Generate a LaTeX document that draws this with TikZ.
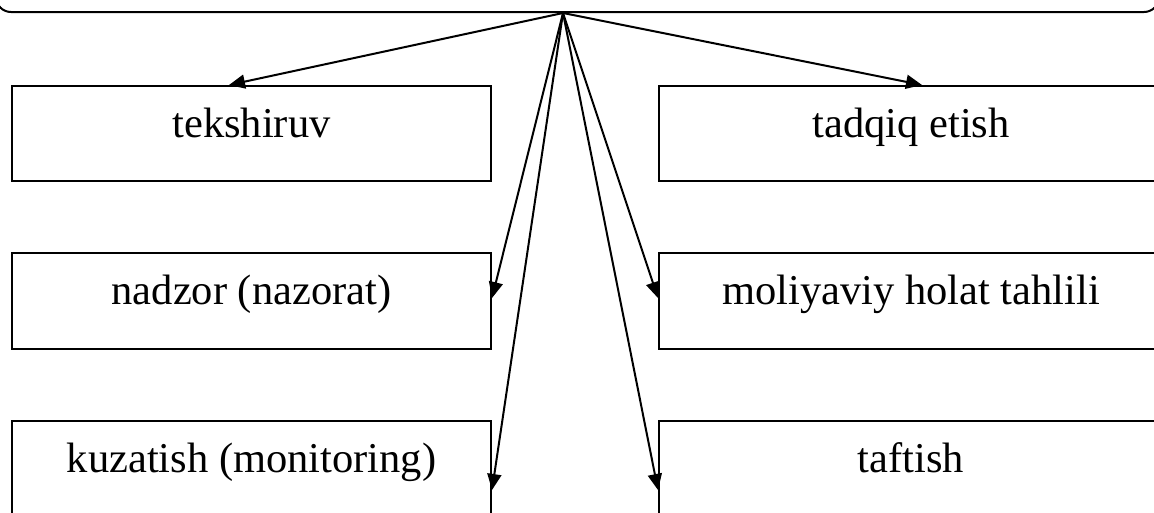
\documentclass[tikz,border=0pt]{standalone}
\usepackage{fontspec}
\setmainfont{Liberation Serif}
\usetikzlibrary{arrows.meta}
\begin{document}
\begin{tikzpicture}[x=1pt,y=-1pt,
  box/.style={draw, line width=2pt, inner sep=0pt, anchor=north west},
  lbl/.style={anchor=base, inner sep=0pt, font=\fontsize{42.5}{50}\selectfont},
  conn/.style={line width=2pt, -{Triangle[length=16pt,width=14pt]}}]
\useasboundingbox (0,0) rectangle (1154,512);
\clip (0,0) rectangle (1154,512);
% top rounded box (only its lower edge shows)
\node[draw, line width=2pt, rounded corners=15pt, minimum width=1163pt, minimum height=120pt, anchor=south west, inner sep=0pt] (top) at (-5,13) {};
\coordinate (src) at ([xshift=-14.5pt]top.south);
% boxes
\node[box, minimum width=479pt, minimum height=95pt] (tek) at (11,85) {};
\node[box, minimum width=504pt, minimum height=95pt] (tad) at (658,85) {};
\node[box, minimum width=479pt, minimum height=96pt] (nad) at (11,252) {};
\node[box, minimum width=504pt, minimum height=96pt] (mol) at (658,252) {};
\node[box, minimum width=479pt, minimum height=120pt] (kuz) at (11,420) {};
\node[box, minimum width=504pt, minimum height=120pt] (taf) at (658,420) {};
% labels
\node[lbl] at ([yshift=-52pt]tek.north) {tekshiruv};
\node[lbl] at ([yshift=-52pt]tad.north) {tadqiq etish};
\node[lbl] at ([yshift=-52pt]nad.north) {nadzor (nazorat)};
\node[lbl] at ([yshift=-52pt]mol.north) {moliyaviy holat tahlili};
\node[lbl] at ([yshift=-52pt]kuz.north) {kuzatish (monitoring)};
\node[lbl] at ([yshift=-52pt]taf.north) {taftish};
% connectors
\draw[conn] (src) -- ([xshift=218pt]tek.north west);
\draw[conn] (src) -- ([xshift=264pt]tad.north west);
\draw[conn] (src) -- ([yshift=-46pt]nad.north east);
\draw[conn] (src) -- ([yshift=-46pt]mol.north west);
\draw[conn] (src) -- ([yshift=-70pt]kuz.north east);
\draw[conn] (src) -- ([yshift=-70pt]taf.north west);
\end{tikzpicture}
\end{document}
